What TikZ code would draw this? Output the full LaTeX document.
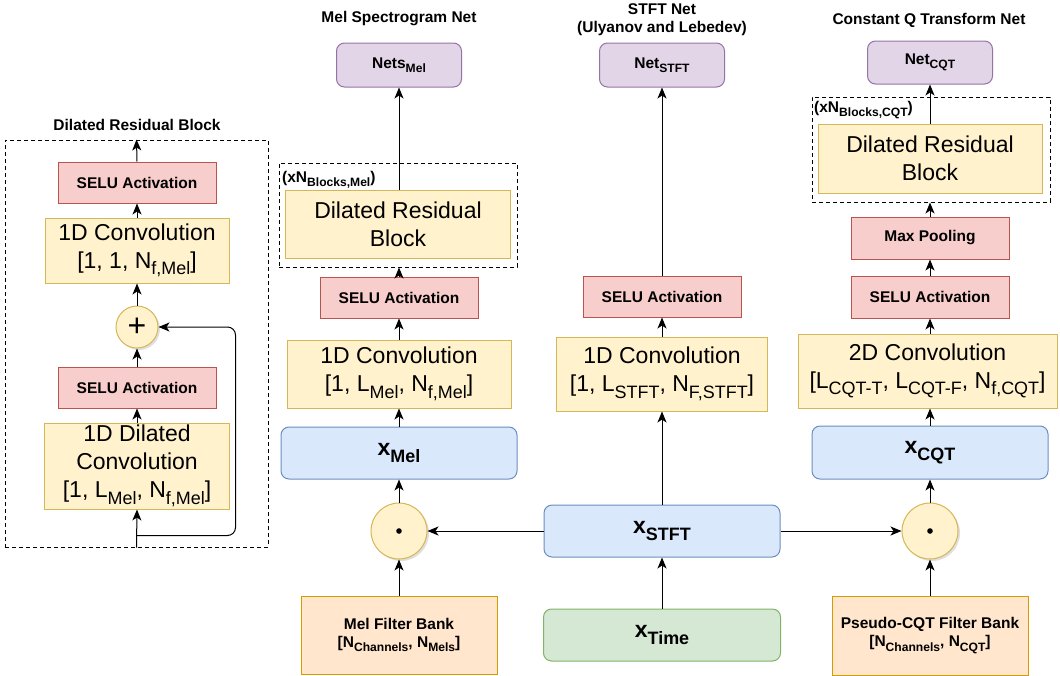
\documentclass[tikz,border=0pt]{standalone}
\usepackage{fontspec}
\setmainfont{Liberation Sans}
\usepackage{graphicx}
\usetikzlibrary{arrows.meta,shadows,calc}
\definecolor{yfill}{HTML}{FFF2CC}\definecolor{ydraw}{HTML}{D6B656}
\definecolor{rfill}{HTML}{F8CECC}\definecolor{rdraw}{HTML}{B85450}
\definecolor{bfill}{HTML}{DAE8FC}\definecolor{bdraw}{HTML}{6C8EBF}
\definecolor{gfill}{HTML}{D5E8D4}\definecolor{gdraw}{HTML}{82B366}
\definecolor{pfill}{HTML}{E1D5E7}\definecolor{pdraw}{HTML}{9673A6}
\definecolor{ofill}{HTML}{FFE6CC}\definecolor{odraw}{HTML}{D79B00}
\newcommand\subs[1]{\raisebox{-0.28em}{\scalebox{0.78}{#1}}}
\newcommand\fsmall{\fontsize{15.5}{18}\selectfont\bfseries}
\newcommand\fbig{\fontsize{23}{28}\selectfont}
\newcommand\fx{\fontsize{23}{28}\selectfont\bfseries}
\tikzset{
  sz/.style 2 args={minimum width=#1pt, minimum height=#2pt},
  box/.style={draw, inner sep=0pt, align=center, line width=1pt},
  ybox/.style={box, fill=yfill, draw=ydraw, font=\fbig},
  rbox/.style={box, fill=rfill, draw=rdraw, font=\fsmall},
  bbox/.style={box, fill=bfill, draw=bdraw, rounded corners=8pt, font=\fx},
  gbox/.style={box, fill=gfill, draw=gdraw, rounded corners=8pt, font=\fx},
  pbox/.style={box, fill=pfill, draw=pdraw, rounded corners=8pt, font=\fsmall},
  obox/.style={box, fill=ofill, draw=odraw, font=\fsmall},
  circ/.style={circle, draw=ydraw, fill=yfill, line width=1pt, inner sep=0pt,
    drop shadow={opacity=0.25, shadow xshift=2pt, shadow yshift=-2pt}},
  grp/.style={draw, dash pattern=on 4pt off 3pt, line width=1pt, inner sep=0pt},
  ttl/.style={font=\fsmall, align=center, inner sep=0pt},
  lbl/.style={font=\fsmall, inner sep=0pt, anchor=west},
  arr/.style={-{Stealth[length=11pt,width=9pt,inset=3pt]}, line width=1pt},
}
\begin{document}
\begin{tikzpicture}[x=1pt,y=-1pt]
\useasboundingbox (0,0) rectangle (1060,675);
% ---------------- Left: Dilated residual block
\node[ttl] (ltitle) at (137,125) {Dilated Residual Block};
\node[grp, sz={263}{407}] (lgrp) at (136.5,343.5) {};
\node[rbox, sz={158}{41}] (lselu2) at (137,182.5) {SELU Activation};
\node[ybox, sz={184}{65}] (lconv2) at (137,250.5) {1D Convolution\\{}[1, 1, N\subs{f,Mel}]};
\node[circ, minimum size=42pt, font=\fontsize{32}{32}\selectfont] (plus) at (137,327) {+};
\node[rbox, sz={158}{41}] (lselu1) at (137,387.5) {SELU Activation};
\node[ybox, sz={185}{86}] (lconv1) at (137,466) {1D Dilated\\Convolution\\{}[1, L\subs{Mel}, N\subs{f,Mel}]};
\coordinate (lbr) at ($(lgrp.south)+(0,-12)$);
\draw[arr] (lgrp.south) -- (lconv1.south);
\draw[arr] (lconv1.north) -- (lselu1.south);
\draw[arr] (lselu1.north) -- (plus.south);
\draw[arr] (plus.north) -- (lconv2.south);
\draw[arr] (lconv2.north) -- (lselu2.south);
\draw[arr] (lselu2.north) -- (lgrp.north);
\draw[arr, rounded corners=8pt] (lbr) -- ++(99,0) |- (plus.east);
% ---------------- Mel column
\node[ttl] (mtitle) at (399,19) {Mel Spectrogram Net};
\node[pbox, sz={125}{44}] (mnet) at (399,65) {Nets\subs{Mel}};
\node[grp, sz={238}{104}] (mgrp) at (398,215) {};
\node[lbl] (mlbl) at (282,180) {(xN\subs{Blocks,Mel})};
\node[ybox, sz={225}{68}] (mdrb) at (398,224) {Dilated Residual\\Block};
\node[rbox, sz={158}{41}] (mselu) at (399,297.5) {SELU Activation};
\node[ybox, sz={224}{68}] (mconv) at (399,374) {1D Convolution\\{}[1, L\subs{Mel}, N\subs{f,Mel}]};
\node[bbox, sz={236}{52}] (mx) at (399,453) {x\subs{Mel}};
\node[circ, minimum size=56pt] (mcirc) at (399,531) {};
\fill (mcirc.center) circle (2.8);
\node[obox, sz={196}{78}] (mfb) at (399,635) {Mel Filter Bank\\{}[N\subs{Channels}, N\subs{Mels}]};
\draw[arr] (mfb.north) -- (mcirc.south);
\draw[arr] (mcirc.north) -- (mx.south);
\draw[arr] (mx.north) -- (mconv.south);
\draw[arr] (mconv.north) -- (mselu.south);
\draw[arr] (mselu.north) -- (mselu.north |- mgrp.south);
\draw[arr] (mnet.south |- mdrb.north) -- (mnet.south);
% ---------------- STFT column
\node[ttl] (stitle) at (662,20) {STFT Net\\(Ulyanov and Lebedev)};
\node[pbox, sz={125}{44}] (snet) at (662,65) {Net\subs{STFT}};
\node[rbox, sz={158}{41}] (sselu) at (662,296.5) {SELU Activation};
\node[ybox, sz={211}{74}] (sconv) at (662,374) {1D Convolution\\{}[1, L\subs{STFT}, N\subs{F,STFT}]};
\node[bbox, sz={236}{52}] (sx) at (662,531) {x\subs{STFT}};
\node[gbox, sz={237}{52}] (stime) at (662,635) {x\subs{Time}};
\draw[arr] (stime.north) -- (sx.south);
\draw[arr] (sx.north) -- (sconv.south);
\draw[arr] (sconv.north) -- (sselu.south);
\draw[arr] (sselu.north) -- (snet.south);
% ---------------- CQT column
\node[ttl] (ctitle) at (929,20) {Constant Q Transform Net};
\node[pbox, sz={125}{43}] (cnet) at (930,62.5) {Net\subs{CQT}};
\node[grp, sz={238}{105}] (cgrp) at (931,149.5) {};
\node[lbl] (clbl) at (814,110) {(xN\subs{Blocks,CQT})};
\node[ybox, sz={224}{69}] (cdrb) at (930,158.5) {Dilated Residual\\Block};
\node[rbox, sz={158}{42}] (cpool) at (930,238) {Max Pooling};
\node[rbox, sz={158}{42}] (cselu) at (930,297) {SELU Activation};
\node[ybox, sz={259}{74}] (cconv) at (927.5,371) {2D Convolution\\{}[L\subs{CQT-T}, L\subs{CQT-F}, N\subs{f,CQT}]};
\node[bbox, sz={236}{53}] (cx) at (930,452.5) {x\subs{CQT}};
\node[circ, minimum size=56pt] (ccirc) at (930,531) {};
\fill (ccirc.center) circle (2.8);
\node[obox, sz={196}{79}] (cfb) at (930,635.5) {Pseudo-CQT Filter Bank\\{}[N\subs{Channels}, N\subs{CQT}]};
\draw[arr] (cfb.north) -- (ccirc.south);
\draw[arr] (ccirc.north) -- (cx.south);
\draw[arr] (cx.north) -- (cx.north |- cconv.south);
\draw[arr] (cselu.south |- cconv.north) -- (cselu.south);
\draw[arr] (cselu.north) -- (cpool.south);
\draw[arr] (cpool.north) -- (cpool.north |- cgrp.south);
\draw[arr] (cdrb.north) -- (cnet.south);
% ---------------- cross links
\draw[arr] (sx.west) -- (mcirc.east);
\draw[arr] (sx.east) -- (ccirc.west);
\end{tikzpicture}
\end{document}
